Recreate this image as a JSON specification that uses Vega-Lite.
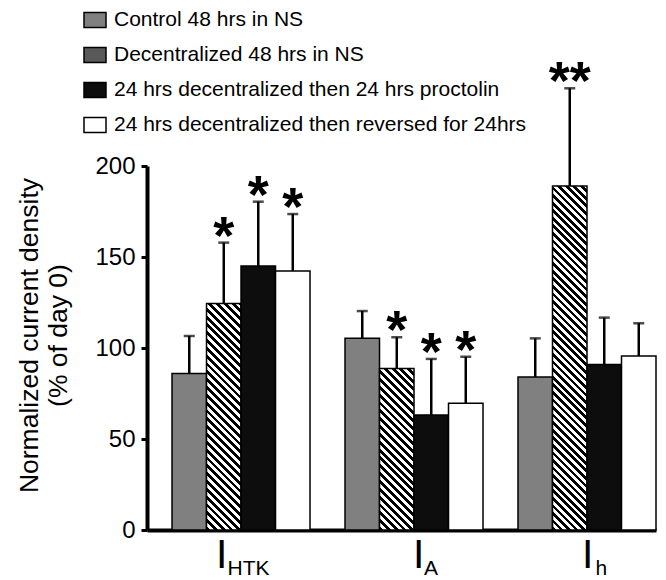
{
  "$schema": "https://vega.github.io/schema/vega-lite/v6.json",
  "width": 509,
  "height": 364,
  "autosize": {"type": "none"},
  "padding": {"left": 147, "top": 166, "right": 10, "bottom": 50},
  "background": "white",
  "config": {
    "font": "Liberation Sans",
    "view": {"stroke": null},
    "axis": {"domainColor": "#000", "tickColor": "#000", "labelColor": "#000", "titleColor": "#000", "grid": false}
  },
  "datasets": {
    "bars": [
      {"group": "HTK", "cond": "Control 48 hrs in NS", "value": 86, "upper": 106.6, "star": ""},
      {"group": "HTK", "cond": "Decentralized 48 hrs in NS", "value": 124.5, "upper": 157.9, "star": "*"},
      {"group": "HTK", "cond": "24 hrs decentralized then 24 hrs proctolin", "value": 145, "upper": 180.4, "star": "*"},
      {"group": "HTK", "cond": "24 hrs decentralized then reversed for 24hrs", "value": 142.3, "upper": 173.6, "star": "*"},
      {"group": "A", "cond": "Control 48 hrs in NS", "value": 105.3, "upper": 120.3, "star": ""},
      {"group": "A", "cond": "Decentralized 48 hrs in NS", "value": 88.8, "upper": 105.9, "star": "*"},
      {"group": "A", "cond": "24 hrs decentralized then 24 hrs proctolin", "value": 63.2, "upper": 94, "star": "*"},
      {"group": "A", "cond": "24 hrs decentralized then reversed for 24hrs", "value": 69.6, "upper": 95.2, "star": "*"},
      {"group": "h", "cond": "Control 48 hrs in NS", "value": 84, "upper": 105.3, "star": ""},
      {"group": "h", "cond": "Decentralized 48 hrs in NS", "value": 189, "upper": 242.7, "star": "**"},
      {"group": "h", "cond": "24 hrs decentralized then 24 hrs proctolin", "value": 91, "upper": 116.7, "star": ""},
      {"group": "h", "cond": "24 hrs decentralized then reversed for 24hrs", "value": 95.6, "upper": 113.6, "star": ""}
    ],
    "labels": [
      {"group": "HTK", "main": "I", "sub": "HTK"},
      {"group": "A", "main": "I", "sub": "A"},
      {"group": "h", "main": "I", "sub": "h"}
    ]
  },
  "encoding": {
    "x": {
      "field": "group", "type": "nominal", "sort": ["HTK", "A", "h"],
      "scale": {"paddingInner": 0.2023, "paddingOuter": 0.0723, "align": 1},
      "axis": {"title": null, "labels": false, "ticks": false, "domainWidth": 4}
    }
  },
  "layer": [
    {
      "data": {"name": "bars"},
      "mark": {"type": "bar", "stroke": "#000", "strokeWidth": 1.5},
      "encoding": {
        "xOffset": {"field": "cond", "type": "nominal", "sort": ["Control 48 hrs in NS", "Decentralized 48 hrs in NS", "24 hrs decentralized then 24 hrs proctolin", "24 hrs decentralized then reversed for 24hrs"], "scale": {"paddingInner": 0, "paddingOuter": 0}},
        "y": {
          "field": "value", "type": "quantitative",
          "scale": {"domain": [0, 200]},
          "axis": {
            "values": [0, 50, 100, 150, 200], "domainWidth": 4, "tickWidth": 3, "tickSize": 6,
            "labelFontSize": 24, "labelPadding": 6,
            "title": ["Normalized current density", "(% of day 0)"],
            "titleFontSize": 26.5, "titleFontWeight": "normal", "titleLineHeight": 29, "titlePadding": 22, "titleY": 169
          }
        },
        "fill": {
          "condition": [
            {"test": "datum.cond === 'Decentralized 48 hrs in NS' && datum.group === 'HTK'", "value": {"gradient": "linear", "x1": 0, "y1": 1, "x2": 0.17146, "y2": -0.12616, "stops": [
              {"offset":0,"color":"#000"},
              {"offset":0.015,"color":"#000"},{"offset":0.015,"color":"#fff"},
              {"offset":0.03,"color":"#fff"},{"offset":0.03,"color":"#000"},
              {"offset":0.045,"color":"#000"},{"offset":0.045,"color":"#fff"},
              {"offset":0.06,"color":"#fff"},{"offset":0.06,"color":"#000"},
              {"offset":0.075,"color":"#000"},{"offset":0.075,"color":"#fff"},
              {"offset":0.09,"color":"#fff"},{"offset":0.09,"color":"#000"},
              {"offset":0.105,"color":"#000"},{"offset":0.105,"color":"#fff"},
              {"offset":0.12,"color":"#fff"},{"offset":0.12,"color":"#000"},
              {"offset":0.135,"color":"#000"},{"offset":0.135,"color":"#fff"},
              {"offset":0.15,"color":"#fff"},{"offset":0.15,"color":"#000"},
              {"offset":0.165,"color":"#000"},{"offset":0.165,"color":"#fff"},
              {"offset":0.18,"color":"#fff"},{"offset":0.18,"color":"#000"},
              {"offset":0.195,"color":"#000"},{"offset":0.195,"color":"#fff"},
              {"offset":0.21,"color":"#fff"},{"offset":0.21,"color":"#000"},
              {"offset":0.225,"color":"#000"},{"offset":0.225,"color":"#fff"},
              {"offset":0.24,"color":"#fff"},{"offset":0.24,"color":"#000"},
              {"offset":0.255,"color":"#000"},{"offset":0.255,"color":"#fff"},
              {"offset":0.27,"color":"#fff"},{"offset":0.27,"color":"#000"},
              {"offset":0.285,"color":"#000"},{"offset":0.285,"color":"#fff"},
              {"offset":0.3,"color":"#fff"},{"offset":0.3,"color":"#000"},
              {"offset":0.315,"color":"#000"},{"offset":0.315,"color":"#fff"},
              {"offset":0.33,"color":"#fff"},{"offset":0.33,"color":"#000"},
              {"offset":0.345,"color":"#000"},{"offset":0.345,"color":"#fff"},
              {"offset":0.36,"color":"#fff"},{"offset":0.36,"color":"#000"},
              {"offset":0.375,"color":"#000"},{"offset":0.375,"color":"#fff"},
              {"offset":0.39,"color":"#fff"},{"offset":0.39,"color":"#000"},
              {"offset":0.405,"color":"#000"},{"offset":0.405,"color":"#fff"},
              {"offset":0.42,"color":"#fff"},{"offset":0.42,"color":"#000"},
              {"offset":0.435,"color":"#000"},{"offset":0.435,"color":"#fff"},
              {"offset":0.45,"color":"#fff"},{"offset":0.45,"color":"#000"},
              {"offset":0.465,"color":"#000"},{"offset":0.465,"color":"#fff"},
              {"offset":0.48,"color":"#fff"},{"offset":0.48,"color":"#000"},
              {"offset":0.495,"color":"#000"},{"offset":0.495,"color":"#fff"},
              {"offset":0.51,"color":"#fff"},{"offset":0.51,"color":"#000"},
              {"offset":0.525,"color":"#000"},{"offset":0.525,"color":"#fff"},
              {"offset":0.54,"color":"#fff"},{"offset":0.54,"color":"#000"},
              {"offset":0.555,"color":"#000"},{"offset":0.555,"color":"#fff"},
              {"offset":0.57,"color":"#fff"},{"offset":0.57,"color":"#000"},
              {"offset":0.585,"color":"#000"},{"offset":0.585,"color":"#fff"},
              {"offset":0.6,"color":"#fff"},{"offset":0.6,"color":"#000"},
              {"offset":0.615,"color":"#000"},{"offset":0.615,"color":"#fff"},
              {"offset":0.63,"color":"#fff"},{"offset":0.63,"color":"#000"},
              {"offset":0.645,"color":"#000"},{"offset":0.645,"color":"#fff"},
              {"offset":0.66,"color":"#fff"},{"offset":0.66,"color":"#000"},
              {"offset":0.675,"color":"#000"},{"offset":0.675,"color":"#fff"},
              {"offset":0.69,"color":"#fff"},{"offset":0.69,"color":"#000"},
              {"offset":0.705,"color":"#000"},{"offset":0.705,"color":"#fff"},
              {"offset":0.72,"color":"#fff"},{"offset":0.72,"color":"#000"},
              {"offset":0.735,"color":"#000"},{"offset":0.735,"color":"#fff"},
              {"offset":0.75,"color":"#fff"},{"offset":0.75,"color":"#000"},
              {"offset":0.765,"color":"#000"},{"offset":0.765,"color":"#fff"},
              {"offset":0.78,"color":"#fff"},{"offset":0.78,"color":"#000"},
              {"offset":0.795,"color":"#000"},{"offset":0.795,"color":"#fff"},
              {"offset":0.81,"color":"#fff"},{"offset":0.81,"color":"#000"},
              {"offset":0.825,"color":"#000"},{"offset":0.825,"color":"#fff"},
              {"offset":0.84,"color":"#fff"},{"offset":0.84,"color":"#000"},
              {"offset":0.855,"color":"#000"},{"offset":0.855,"color":"#fff"},
              {"offset":0.87,"color":"#fff"},{"offset":0.87,"color":"#000"},
              {"offset":0.885,"color":"#000"},{"offset":0.885,"color":"#fff"},
              {"offset":0.9,"color":"#fff"},{"offset":0.9,"color":"#000"},
              {"offset":0.915,"color":"#000"},{"offset":0.915,"color":"#fff"},
              {"offset":0.93,"color":"#fff"},{"offset":0.93,"color":"#000"},
              {"offset":0.945,"color":"#000"},{"offset":0.945,"color":"#fff"},
              {"offset":0.96,"color":"#fff"},{"offset":0.96,"color":"#000"},
              {"offset":0.975,"color":"#000"},{"offset":0.975,"color":"#fff"},
              {"offset":0.99,"color":"#fff"},{"offset":0.99,"color":"#000"},
              {"offset":1,"color":"#000"}
            ]}},
            {"test": "datum.cond === 'Decentralized 48 hrs in NS' && datum.group === 'A'", "value": {"gradient": "linear", "x1": 0, "y1": 1, "x2": 0.24778, "y2": -0.1606, "stops": [
              {"offset":0,"color":"#000"},
              {"offset":0.02,"color":"#000"},{"offset":0.02,"color":"#fff"},
              {"offset":0.04,"color":"#fff"},{"offset":0.04,"color":"#000"},
              {"offset":0.06,"color":"#000"},{"offset":0.06,"color":"#fff"},
              {"offset":0.08,"color":"#fff"},{"offset":0.08,"color":"#000"},
              {"offset":0.1,"color":"#000"},{"offset":0.1,"color":"#fff"},
              {"offset":0.12,"color":"#fff"},{"offset":0.12,"color":"#000"},
              {"offset":0.14,"color":"#000"},{"offset":0.14,"color":"#fff"},
              {"offset":0.16,"color":"#fff"},{"offset":0.16,"color":"#000"},
              {"offset":0.18,"color":"#000"},{"offset":0.18,"color":"#fff"},
              {"offset":0.2,"color":"#fff"},{"offset":0.2,"color":"#000"},
              {"offset":0.22,"color":"#000"},{"offset":0.22,"color":"#fff"},
              {"offset":0.24,"color":"#fff"},{"offset":0.24,"color":"#000"},
              {"offset":0.26,"color":"#000"},{"offset":0.26,"color":"#fff"},
              {"offset":0.28,"color":"#fff"},{"offset":0.28,"color":"#000"},
              {"offset":0.3,"color":"#000"},{"offset":0.3,"color":"#fff"},
              {"offset":0.32,"color":"#fff"},{"offset":0.32,"color":"#000"},
              {"offset":0.34,"color":"#000"},{"offset":0.34,"color":"#fff"},
              {"offset":0.36,"color":"#fff"},{"offset":0.36,"color":"#000"},
              {"offset":0.38,"color":"#000"},{"offset":0.38,"color":"#fff"},
              {"offset":0.4,"color":"#fff"},{"offset":0.4,"color":"#000"},
              {"offset":0.42,"color":"#000"},{"offset":0.42,"color":"#fff"},
              {"offset":0.44,"color":"#fff"},{"offset":0.44,"color":"#000"},
              {"offset":0.46,"color":"#000"},{"offset":0.46,"color":"#fff"},
              {"offset":0.48,"color":"#fff"},{"offset":0.48,"color":"#000"},
              {"offset":0.5,"color":"#000"},{"offset":0.5,"color":"#fff"},
              {"offset":0.52,"color":"#fff"},{"offset":0.52,"color":"#000"},
              {"offset":0.54,"color":"#000"},{"offset":0.54,"color":"#fff"},
              {"offset":0.56,"color":"#fff"},{"offset":0.56,"color":"#000"},
              {"offset":0.58,"color":"#000"},{"offset":0.58,"color":"#fff"},
              {"offset":0.6,"color":"#fff"},{"offset":0.6,"color":"#000"},
              {"offset":0.62,"color":"#000"},{"offset":0.62,"color":"#fff"},
              {"offset":0.64,"color":"#fff"},{"offset":0.64,"color":"#000"},
              {"offset":0.66,"color":"#000"},{"offset":0.66,"color":"#fff"},
              {"offset":0.68,"color":"#fff"},{"offset":0.68,"color":"#000"},
              {"offset":0.7,"color":"#000"},{"offset":0.7,"color":"#fff"},
              {"offset":0.72,"color":"#fff"},{"offset":0.72,"color":"#000"},
              {"offset":0.74,"color":"#000"},{"offset":0.74,"color":"#fff"},
              {"offset":0.76,"color":"#fff"},{"offset":0.76,"color":"#000"},
              {"offset":0.78,"color":"#000"},{"offset":0.78,"color":"#fff"},
              {"offset":0.8,"color":"#fff"},{"offset":0.8,"color":"#000"},
              {"offset":0.82,"color":"#000"},{"offset":0.82,"color":"#fff"},
              {"offset":0.84,"color":"#fff"},{"offset":0.84,"color":"#000"},
              {"offset":0.86,"color":"#000"},{"offset":0.86,"color":"#fff"},
              {"offset":0.88,"color":"#fff"},{"offset":0.88,"color":"#000"},
              {"offset":0.9,"color":"#000"},{"offset":0.9,"color":"#fff"},
              {"offset":0.92,"color":"#fff"},{"offset":0.92,"color":"#000"},
              {"offset":0.94,"color":"#000"},{"offset":0.94,"color":"#fff"},
              {"offset":0.96,"color":"#fff"},{"offset":0.96,"color":"#000"},
              {"offset":0.98,"color":"#000"},{"offset":0.98,"color":"#fff"},
              {"offset":1,"color":"#fff"}
            ]}},
            {"test": "datum.cond === 'Decentralized 48 hrs in NS' && datum.group === 'h'", "value": {"gradient": "linear", "x1": 0, "y1": 1, "x2": 0.10925, "y2": -0.08934, "stops": [
              {"offset":0,"color":"#000"},
              {"offset":0.01,"color":"#000"},{"offset":0.01,"color":"#fff"},
              {"offset":0.02,"color":"#fff"},{"offset":0.02,"color":"#000"},
              {"offset":0.03,"color":"#000"},{"offset":0.03,"color":"#fff"},
              {"offset":0.04,"color":"#fff"},{"offset":0.04,"color":"#000"},
              {"offset":0.05,"color":"#000"},{"offset":0.05,"color":"#fff"},
              {"offset":0.06,"color":"#fff"},{"offset":0.06,"color":"#000"},
              {"offset":0.07,"color":"#000"},{"offset":0.07,"color":"#fff"},
              {"offset":0.08,"color":"#fff"},{"offset":0.08,"color":"#000"},
              {"offset":0.09,"color":"#000"},{"offset":0.09,"color":"#fff"},
              {"offset":0.1,"color":"#fff"},{"offset":0.1,"color":"#000"},
              {"offset":0.11,"color":"#000"},{"offset":0.11,"color":"#fff"},
              {"offset":0.12,"color":"#fff"},{"offset":0.12,"color":"#000"},
              {"offset":0.13,"color":"#000"},{"offset":0.13,"color":"#fff"},
              {"offset":0.14,"color":"#fff"},{"offset":0.14,"color":"#000"},
              {"offset":0.15,"color":"#000"},{"offset":0.15,"color":"#fff"},
              {"offset":0.16,"color":"#fff"},{"offset":0.16,"color":"#000"},
              {"offset":0.17,"color":"#000"},{"offset":0.17,"color":"#fff"},
              {"offset":0.18,"color":"#fff"},{"offset":0.18,"color":"#000"},
              {"offset":0.19,"color":"#000"},{"offset":0.19,"color":"#fff"},
              {"offset":0.2,"color":"#fff"},{"offset":0.2,"color":"#000"},
              {"offset":0.21,"color":"#000"},{"offset":0.21,"color":"#fff"},
              {"offset":0.22,"color":"#fff"},{"offset":0.22,"color":"#000"},
              {"offset":0.23,"color":"#000"},{"offset":0.23,"color":"#fff"},
              {"offset":0.24,"color":"#fff"},{"offset":0.24,"color":"#000"},
              {"offset":0.25,"color":"#000"},{"offset":0.25,"color":"#fff"},
              {"offset":0.26,"color":"#fff"},{"offset":0.26,"color":"#000"},
              {"offset":0.27,"color":"#000"},{"offset":0.27,"color":"#fff"},
              {"offset":0.28,"color":"#fff"},{"offset":0.28,"color":"#000"},
              {"offset":0.29,"color":"#000"},{"offset":0.29,"color":"#fff"},
              {"offset":0.3,"color":"#fff"},{"offset":0.3,"color":"#000"},
              {"offset":0.31,"color":"#000"},{"offset":0.31,"color":"#fff"},
              {"offset":0.32,"color":"#fff"},{"offset":0.32,"color":"#000"},
              {"offset":0.33,"color":"#000"},{"offset":0.33,"color":"#fff"},
              {"offset":0.34,"color":"#fff"},{"offset":0.34,"color":"#000"},
              {"offset":0.35,"color":"#000"},{"offset":0.35,"color":"#fff"},
              {"offset":0.36,"color":"#fff"},{"offset":0.36,"color":"#000"},
              {"offset":0.37,"color":"#000"},{"offset":0.37,"color":"#fff"},
              {"offset":0.38,"color":"#fff"},{"offset":0.38,"color":"#000"},
              {"offset":0.39,"color":"#000"},{"offset":0.39,"color":"#fff"},
              {"offset":0.4,"color":"#fff"},{"offset":0.4,"color":"#000"},
              {"offset":0.41,"color":"#000"},{"offset":0.41,"color":"#fff"},
              {"offset":0.42,"color":"#fff"},{"offset":0.42,"color":"#000"},
              {"offset":0.43,"color":"#000"},{"offset":0.43,"color":"#fff"},
              {"offset":0.44,"color":"#fff"},{"offset":0.44,"color":"#000"},
              {"offset":0.45,"color":"#000"},{"offset":0.45,"color":"#fff"},
              {"offset":0.46,"color":"#fff"},{"offset":0.46,"color":"#000"},
              {"offset":0.47,"color":"#000"},{"offset":0.47,"color":"#fff"},
              {"offset":0.48,"color":"#fff"},{"offset":0.48,"color":"#000"},
              {"offset":0.49,"color":"#000"},{"offset":0.49,"color":"#fff"},
              {"offset":0.5,"color":"#fff"},{"offset":0.5,"color":"#000"},
              {"offset":0.51,"color":"#000"},{"offset":0.51,"color":"#fff"},
              {"offset":0.52,"color":"#fff"},{"offset":0.52,"color":"#000"},
              {"offset":0.53,"color":"#000"},{"offset":0.53,"color":"#fff"},
              {"offset":0.54,"color":"#fff"},{"offset":0.54,"color":"#000"},
              {"offset":0.55,"color":"#000"},{"offset":0.55,"color":"#fff"},
              {"offset":0.56,"color":"#fff"},{"offset":0.56,"color":"#000"},
              {"offset":0.57,"color":"#000"},{"offset":0.57,"color":"#fff"},
              {"offset":0.58,"color":"#fff"},{"offset":0.58,"color":"#000"},
              {"offset":0.59,"color":"#000"},{"offset":0.59,"color":"#fff"},
              {"offset":0.6,"color":"#fff"},{"offset":0.6,"color":"#000"},
              {"offset":0.61,"color":"#000"},{"offset":0.61,"color":"#fff"},
              {"offset":0.62,"color":"#fff"},{"offset":0.62,"color":"#000"},
              {"offset":0.63,"color":"#000"},{"offset":0.63,"color":"#fff"},
              {"offset":0.64,"color":"#fff"},{"offset":0.64,"color":"#000"},
              {"offset":0.65,"color":"#000"},{"offset":0.65,"color":"#fff"},
              {"offset":0.66,"color":"#fff"},{"offset":0.66,"color":"#000"},
              {"offset":0.67,"color":"#000"},{"offset":0.67,"color":"#fff"},
              {"offset":0.68,"color":"#fff"},{"offset":0.68,"color":"#000"},
              {"offset":0.69,"color":"#000"},{"offset":0.69,"color":"#fff"},
              {"offset":0.7,"color":"#fff"},{"offset":0.7,"color":"#000"},
              {"offset":0.71,"color":"#000"},{"offset":0.71,"color":"#fff"},
              {"offset":0.72,"color":"#fff"},{"offset":0.72,"color":"#000"},
              {"offset":0.73,"color":"#000"},{"offset":0.73,"color":"#fff"},
              {"offset":0.74,"color":"#fff"},{"offset":0.74,"color":"#000"},
              {"offset":0.75,"color":"#000"},{"offset":0.75,"color":"#fff"},
              {"offset":0.76,"color":"#fff"},{"offset":0.76,"color":"#000"},
              {"offset":0.77,"color":"#000"},{"offset":0.77,"color":"#fff"},
              {"offset":0.78,"color":"#fff"},{"offset":0.78,"color":"#000"},
              {"offset":0.79,"color":"#000"},{"offset":0.79,"color":"#fff"},
              {"offset":0.8,"color":"#fff"},{"offset":0.8,"color":"#000"},
              {"offset":0.81,"color":"#000"},{"offset":0.81,"color":"#fff"},
              {"offset":0.82,"color":"#fff"},{"offset":0.82,"color":"#000"},
              {"offset":0.83,"color":"#000"},{"offset":0.83,"color":"#fff"},
              {"offset":0.84,"color":"#fff"},{"offset":0.84,"color":"#000"},
              {"offset":0.85,"color":"#000"},{"offset":0.85,"color":"#fff"},
              {"offset":0.86,"color":"#fff"},{"offset":0.86,"color":"#000"},
              {"offset":0.87,"color":"#000"},{"offset":0.87,"color":"#fff"},
              {"offset":0.88,"color":"#fff"},{"offset":0.88,"color":"#000"},
              {"offset":0.89,"color":"#000"},{"offset":0.89,"color":"#fff"},
              {"offset":0.9,"color":"#fff"},{"offset":0.9,"color":"#000"},
              {"offset":0.91,"color":"#000"},{"offset":0.91,"color":"#fff"},
              {"offset":0.92,"color":"#fff"},{"offset":0.92,"color":"#000"},
              {"offset":0.93,"color":"#000"},{"offset":0.93,"color":"#fff"},
              {"offset":0.94,"color":"#fff"},{"offset":0.94,"color":"#000"},
              {"offset":0.95,"color":"#000"},{"offset":0.95,"color":"#fff"},
              {"offset":0.96,"color":"#fff"},{"offset":0.96,"color":"#000"},
              {"offset":0.97,"color":"#000"},{"offset":0.97,"color":"#fff"},
              {"offset":0.98,"color":"#fff"},{"offset":0.98,"color":"#000"},
              {"offset":0.99,"color":"#000"},{"offset":0.99,"color":"#fff"},
              {"offset":1,"color":"#fff"}
            ]}}
          ],
          "field": "cond", "type": "nominal",
          "scale": {
            "domain": ["Control 48 hrs in NS", "Decentralized 48 hrs in NS", "24 hrs decentralized then 24 hrs proctolin", "24 hrs decentralized then reversed for 24hrs"],
            "range": ["#808080", "#595959", "#0d0d0d", "#ffffff"]
          },
          "legend": {
            "title": null, "orient": "none", "legendX": -64, "legendY": -158, "padding": 0,
            "symbolType": "M-1,-0.68H1V0.68H-1Z", "symbolSize": 484,
            "labelFontSize": 21, "labelColor": "#000", "labelOffset": 7, "labelLimit": 0,
            "rowPadding": 12,
            "encode": {
              "symbols": {
                "stroke": {"value": "#000"},
                "strokeWidth": {"value": 1.5}
              }
            }
          }
        }
      }
    },
    {
      "data": {"name": "bars"},
      "mark": {"type": "rule", "color": "#000", "strokeWidth": 2.5},
      "encoding": {
        "xOffset": {"field": "cond", "type": "nominal", "sort": ["Control 48 hrs in NS", "Decentralized 48 hrs in NS", "24 hrs decentralized then 24 hrs proctolin", "24 hrs decentralized then reversed for 24hrs"]},
        "y": {"field": "value", "type": "quantitative"},
        "y2": {"field": "upper"}
      }
    },
    {
      "data": {"name": "bars"},
      "mark": {"type": "tick", "color": "#000", "thickness": 2.5, "size": 11},
      "encoding": {
        "xOffset": {"field": "cond", "type": "nominal", "sort": ["Control 48 hrs in NS", "Decentralized 48 hrs in NS", "24 hrs decentralized then 24 hrs proctolin", "24 hrs decentralized then reversed for 24hrs"]},
        "y": {"field": "upper", "type": "quantitative"}
      }
    },
    {
      "data": {"name": "bars"},
      "transform": [{"filter": "datum.star !== ''"}],
      "mark": {"type": "text", "color": "#000", "fontSize": 54, "fontWeight": "bold", "baseline": "alphabetic", "dy": 11, "font": "Liberation Sans"},
      "encoding": {
        "xOffset": {"field": "cond", "type": "nominal", "sort": ["Control 48 hrs in NS", "Decentralized 48 hrs in NS", "24 hrs decentralized then 24 hrs proctolin", "24 hrs decentralized then reversed for 24hrs"]},
        "y": {"field": "upper", "type": "quantitative"},
        "text": {"field": "star"}
      }
    },
    {
      "data": {"name": "labels"},
      "mark": {"type": "text", "color": "#000", "fontSize": 41, "align": "left", "baseline": "alphabetic", "dy": 38, "dx": {"expr": "datum.group === 'HTK' ? -25 : datum.group === 'A' ? -1 : -5"}, "font": "Liberation Sans"},
      "encoding": {
        "y": {"datum": 0, "type": "quantitative"},
        "text": {"field": "main"}
      }
    },
    {
      "data": {"name": "labels"},
      "mark": {"type": "text", "color": "#000", "fontSize": 21, "align": "left", "baseline": "alphabetic", "dy": 45, "dx": {"expr": "datum.group === 'HTK' ? -13.5 : datum.group === 'A' ? 10 : 8.5"}, "font": "Liberation Sans"},
      "encoding": {
        "y": {"datum": 0, "type": "quantitative"},
        "text": {"field": "sub"}
      }
    }
  ]
}
